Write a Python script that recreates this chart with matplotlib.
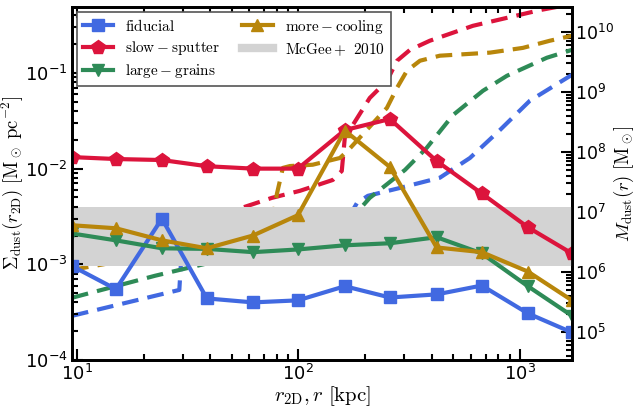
import matplotlib
matplotlib.use('Agg')
import matplotlib.pyplot as plt
from matplotlib.lines import Line2D

plt.rcParams['mathtext.fontset'] = 'cm'
plt.rcParams['font.family'] = 'DejaVu Sans'

# radial bins of the projected profiles [kpc]
r_bins = [9.5, 15.0, 24.2, 38.6, 62.4, 99.5, 162, 259, 421, 673, 1087, 1718]

# surface density of dust [Msun / pc^2]
sigma_fiducial = [9.6e-4, 5.5e-4, 3.0e-3, 4.4e-4, 4.0e-4, 4.2e-4, 5.9e-4, 4.5e-4, 4.85e-4, 6.0e-4, 3.07e-4, 1.94e-4]
sigma_slow = [1.32e-2, 1.26e-2, 1.23e-2, 1.06e-2, 1.0e-2, 1.0e-2, 2.53e-2, 3.3e-2, 1.2e-2, 5.5e-3, 2.44e-3, 1.3e-3]
sigma_large = [2.1e-3, 1.78e-3, 1.47e-3, 1.45e-3, 1.34e-3, 1.43e-3, 1.58e-3, 1.66e-3, 1.92e-3, 1.3e-3, 5.9e-4, 2.9e-4]
sigma_cool = [2.56e-3, 2.38e-3, 1.78e-3, 1.47e-3, 2.0e-3, 3.26e-3, 2.5e-2, 1.04e-2, 1.5e-3, 1.34e-3, 8.4e-4, 4.2e-4]

# cumulative dust mass profiles [Msun]
r_m_fiducial = [9.5, 29.0, 30.0, 31.5, 33, 60, 128, 165, 184, 206, 287, 435, 595, 812, 1109, 1718]
m_fiducial = [1.85e5, 5.0e5, 4.0e6, 5.0e6, 5.4e6, 5.6e6, 6.1e6, 7.1e6, 1.41e7, 1.85e7, 2.5e7, 3.7e7, 7.9e7, 2.3e8, 7.1e8, 1.92e9]

r_m_slow = [9.5, 26.8, 75.9, 101.6, 143, 157, 162, 210, 251, 279, 319, 392, 614, 874, 1231, 1718]
m_slow = [1.41e6, 4.8e6, 1.71e7, 2.24e7, 3.4e7, 4.8e7, 1.71e8, 7.9e8, 1.52e9, 3.3e9, 5.0e9, 7.1e9, 1.26e10, 1.71e10, 2.3e10, 2.9e10]

r_m_large = [9.5, 22.5, 45, 90, 134, 165, 210, 303, 380, 499, 681, 874, 1324, 1718]
m_large = [3.7e5, 8.6e5, 1.58e6, 2.7e6, 4.3e6, 6.3e6, 1.71e7, 5.0e7, 1.17e8, 4.1e8, 1.04e9, 1.85e9, 3.7e9, 5.0e9]

r_m_cool = [9.5, 16.0, 32.1, 60.4, 75.9, 80, 85.1, 91.6, 116, 154, 167, 251, 279, 309, 354, 435, 733, 1032, 1365, 1718]
m_cool = [1.08e6, 1.52e6, 2.7e6, 4.3e6, 6.1e6, 2.0e7, 5.4e7, 5.8e7, 6.1e7, 7.9e7, 1.04e8, 5.4e8, 1.17e9, 2.24e9, 3.3e9, 4.0e9, 4.5e9, 5.4e9, 7.1e9, 8.6e9]

# McGee & Balogh 2010 range
mcgee_lo, mcgee_hi = 9.6e-4, 4.0e-3

c_fid = '#4169E1'
c_slow = '#DC143C'
c_large = '#2E8B57'
c_cool = '#B8860B'

fig = plt.figure(figsize=(6.37, 4.07), dpi=100)
ax = fig.add_axes([0.113, 0.1155, 0.785, 0.8675])
ax2 = ax.twinx()
ax.set_zorder(ax2.get_zorder() + 1)
ax.patch.set_visible(False)

ax.axhspan(mcgee_lo, mcgee_hi, color='lightgray', lw=0, zorder=0)

lw = 3
ms = 9
ax.plot(r_bins, sigma_fiducial, '-s', color=c_fid, lw=lw, ms=ms, label=r'$\rm fiducial$')
ax.plot(r_bins, sigma_slow, '-p', color=c_slow, lw=lw, ms=ms + 1, label=r'$\rm slow-sputter$')
ax.plot(r_bins, sigma_large, '-v', color=c_large, lw=lw, ms=ms, label=r'$\rm large-grains$')
ax.plot(r_bins, sigma_cool, '-^', color=c_cool, lw=lw, ms=ms, label=r'$\rm more-cooling$')

dash = (4, 2.2)
ax2.plot(r_m_fiducial, m_fiducial, '--', color=c_fid, lw=lw, dashes=dash)
ax2.plot(r_m_slow, m_slow, '--', color=c_slow, lw=lw, dashes=dash)
ax2.plot(r_m_large, m_large, '--', color=c_large, lw=lw, dashes=dash)
ax2.plot(r_m_cool, m_cool, '--', color=c_cool, lw=lw, dashes=dash)

ax.set_xscale('log')
ax.set_yscale('log')
ax2.set_yscale('log')
ax.set_xlim(9.5, 1720)
ax.set_ylim(1e-4, 0.49)
ax2.set_ylim(3.4e4, 2.6e10)

ax.set_xlabel(r'$r_{\rm 2D}, r\ [\rm kpc]$', fontsize=15, labelpad=0)
ax.set_ylabel(r'$\Sigma_{\rm dust}(r_{\rm 2D})\ [\rm M_\odot\ pc^{-2}]$', fontsize=13.5, labelpad=0)
ax2.set_ylabel(r'$M_{\rm dust}(r)\ [\rm M_\odot]$', fontsize=13.5, labelpad=-1)

for a in (ax, ax2):
    for s in a.spines.values():
        s.set_linewidth(2)
    a.tick_params(which='both', direction='in', labelsize=13, width=1.5)
    a.tick_params(which='major', length=8, pad=3)
    a.tick_params(which='minor', length=4)
ax.tick_params(which='both', top=True, right=False)
ax2.tick_params(which='both', top=False, left=False, right=True, labelsize=12.5, pad=2)

handles, labels = ax.get_legend_handles_labels()
handles.append(Line2D([], [], color='lightgray', lw=6))
labels.append(r'$\rm McGee+\ 2010$')
leg = ax.legend(handles, labels, loc='upper left',
                ncol=2, fontsize=11, frameon=True, fancybox=False, framealpha=1,
                edgecolor='#555555', handlelength=2.0, borderpad=0.4, labelspacing=0.35,
                columnspacing=1.4, borderaxespad=0.3)
leg.get_frame().set_linewidth(1.2)

fig.savefig('out.png', dpi=100)
